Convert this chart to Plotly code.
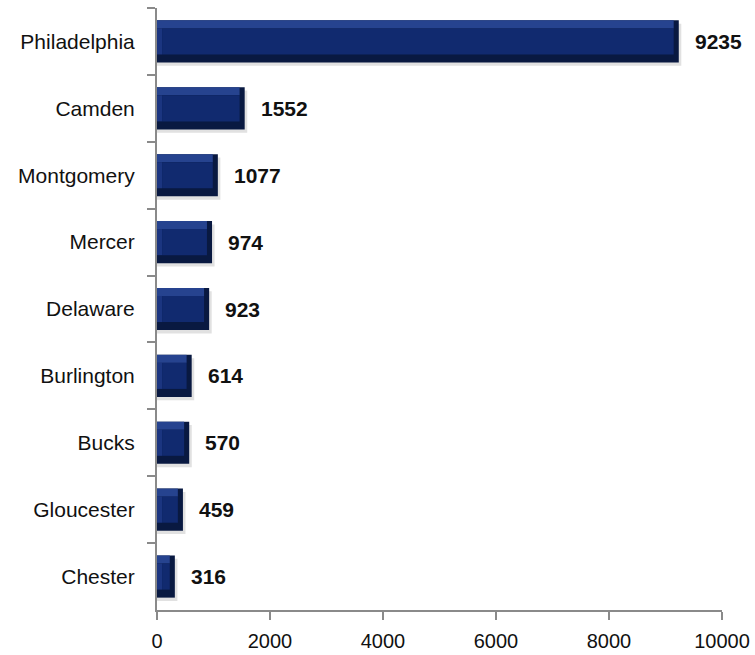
import plotly.graph_objects as go

counties = ["Philadelphia", "Camden", "Montgomery", "Mercer", "Delaware",
            "Burlington", "Bucks", "Gloucester", "Chester"]
values = [9235, 1552, 1077, 974, 923, 614, 570, 459, 316]
x_ticks = [0, 2000, 4000, 6000, 8000, 10000]
x_tick_labels = ["0", "2000", "4000", "6000", "8000", "10000"]

FONT = "Liberation Sans, Arial, sans-serif"
BAR_W = 0.63
INSET = 90  # bevel inset in data units

fig = go.Figure()
# soft drop shadow
fig.add_trace(go.Bar(
    y=counties, x=[v + 45 for v in values], orientation="h",
    marker=dict(color="rgba(120,120,120,0.22)", line=dict(width=0)),
    width=BAR_W, offset=-BAR_W / 2 + 0.05, hoverinfo="skip",
))
# bar body (dark rim)
fig.add_trace(go.Bar(
    y=counties, x=values, orientation="h",
    marker=dict(color="#091941", line=dict(width=0)),
    width=BAR_W, offset=-BAR_W / 2, hoverinfo="x+y",
))
# top highlight bevel
fig.add_trace(go.Bar(
    y=counties, x=[v - INSET for v in values], orientation="h",
    marker=dict(color="#26438f", line=dict(width=0)),
    width=0.12, offset=-BAR_W / 2, hoverinfo="skip",
))
# left bevel
fig.add_trace(go.Bar(
    y=counties, x=[INSET] * len(values), orientation="h",
    marker=dict(color="#1b3580", line=dict(width=0)),
    width=BAR_W - 0.24, offset=-BAR_W / 2 + 0.12, hoverinfo="skip",
))
# face
fig.add_trace(go.Bar(
    y=counties, x=[v - 2 * INSET for v in values], base=[INSET] * len(values),
    orientation="h",
    marker=dict(color="#112a6f", line=dict(width=0)),
    width=BAR_W - 0.24, offset=-BAR_W / 2 + 0.12, hoverinfo="skip",
))

for c, v in zip(counties, values):
    fig.add_annotation(x=v, y=c, text=f"<b>{v}</b>", showarrow=False,
                       xanchor="left", xshift=14,
                       font=dict(family=FONT, size=21, color="#111"))

fig.update_layout(
    width=755, height=655,
    margin=dict(l=157, r=33, t=8, b=45),
    paper_bgcolor="white", plot_bgcolor="white",
    barmode="overlay", showlegend=False,
    font=dict(family=FONT, size=20, color="#111"),
)
fig.update_xaxes(
    range=[0, 10000], tickvals=x_ticks, ticktext=x_tick_labels,
    showgrid=False, zeroline=False, automargin=False,
    showline=True, linecolor="#8a8a8a", linewidth=2,
    ticks="outside", ticklen=8, tickwidth=2, tickcolor="#8a8a8a",
    tickfont=dict(size=20), ticklabelstandoff=4,
)
fig.update_yaxes(
    categoryorder="array", categoryarray=counties,
    range=[8.5, -0.5], showgrid=False, zeroline=False, automargin=False,
    showline=True, linecolor="#8a8a8a", linewidth=2,
    ticks="outside", tickson="boundaries", ticklen=8, tickwidth=2,
    tickcolor="#8a8a8a", tickfont=dict(size=21), ticklabelstandoff=16,
)

fig.write_html("out.html")
